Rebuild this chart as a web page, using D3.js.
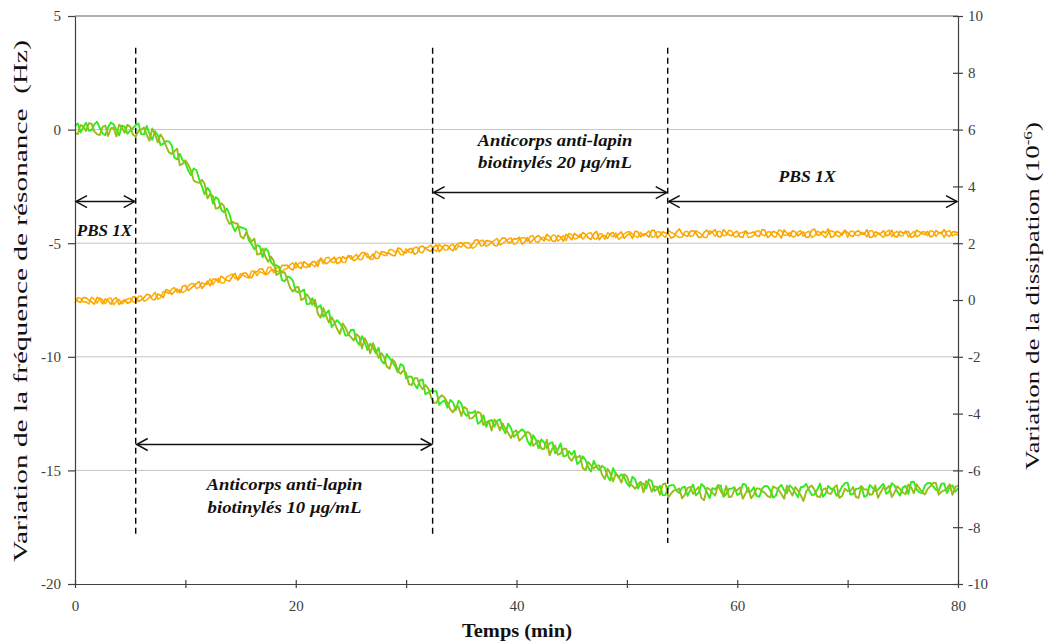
<!DOCTYPE html>
<html><head><meta charset="utf-8">
<script src="https://cdn.jsdelivr.net/npm/d3@7"></script>
<style>body{margin:0;background:#fff}svg{display:block}</style>
</head><body><svg id="c" width="1046" height="644"></svg>
<script>
// ---------- DATA ----------
// samples at t = 0, 0.5, ..., 80 min
const time = d3.range(0, 80.001, 0.5);
// samples at t = 0.25, 0.75, ..., 79.75 min
const timeMid = d3.range(0.25, 80, 0.5);
const freqGreen = [
0.17,-0.13,0.30,-0.03,0.35,-0.17,0.10,0.23,-0.25,0.13,
-0.05,0.20,-0.20,0.16,-0.45,-0.25,-0.62,-0.52,-1.23,-1.07,
-1.47,-2.00,-1.78,-2.50,-2.56,-3.26,-3.08,-3.64,-3.72,-4.47,
-4.30,-4.39,-5.04,-5.09,-5.62,-5.35,-5.98,-6.04,-6.68,-6.51,
-7.12,-7.12,-7.68,-7.42,-7.83,-8.24,-7.96,-8.54,-8.53,-9.06,
-8.82,-9.28,-9.09,-9.70,-9.61,-9.60,-10.30,-10.06,-10.42,-10.32,
-10.96,-10.88,-11.39,-11.00,-11.58,-11.52,-12.11,-11.92,-11.90,-12.34,
-12.06,-12.60,-12.47,-12.95,-12.57,-12.83,-13.07,-12.75,-13.37,-13.13,
-13.41,-13.19,-13.71,-13.45,-14.03,-13.77,-13.81,-14.25,-13.81,-14.35,
-14.31,-14.72,-14.38,-14.86,-14.57,-14.99,-14.89,-15.45,-15.15,-15.17,
-15.57,-15.28,-15.80,-15.59,-15.40,-15.91,-15.68,-16.08,-15.65,-15.90,
-15.76,-16.12,-15.62,-15.98,-15.72,-16.22,-15.84,-15.66,-16.04,-15.80,
-16.08,-15.60,-15.96,-15.74,-16.16,-15.68,-15.88,-16.10,-15.64,-16.00,
-15.78,-16.18,-15.72,-15.86,-16.06,-15.58,-16.02,-15.82,-16.12,-15.70,
-15.54,-16.04,-15.80,-16.16,-15.64,-15.91,-15.71,-16.03,-15.56,-15.93,
-15.76,-16.03,-15.50,-15.96,-15.67,-15.56,-15.86,-15.59,-16.00,-15.66,
-15.79];
const freqGreenMid = [
0.27,0.10,-0.05,0.23,0.07,-0.25,0.31,-0.01,0.18,-0.18,
0.07,0.27,-0.21,-0.20,-0.07,-0.68,-0.51,-0.68,-1.31,-1.34,
-1.79,-1.71,-2.19,-2.85,-2.73,-2.97,-3.53,-3.47,-4.21,-4.24,
-4.33,-4.88,-5.27,-5.14,-5.23,-5.82,-5.97,-6.63,-6.47,-6.66,
-7.16,-7.04,-7.67,-7.76,-7.73,-8.09,-8.69,-8.39,-8.70,-9.05,
-8.81,-9.47,-9.37,-9.42,-9.84,-10.17,-9.88,-10.22,-10.68,-10.40,
-10.87,-11.21,-11.04,-11.65,-11.49,-11.51,-11.98,-12.24,-12.01,-11.93,
-12.46,-12.45,-12.38,-12.86,-13.08,-12.78,-12.82,-13.14,-12.94,-13.52,
-13.30,-13.30,-13.90,-13.64,-13.64,-14.02,-13.76,-14.08,-14.38,-14.16,
-14.14,-14.62,-14.54,-15.05,-14.86,-14.80,-15.26,-14.90,-15.32,-15.30,
-15.71,-15.40,-15.57,-15.80,-15.47,-15.82,-16.09,-15.70,-15.65,-15.99,
-15.72,-15.86,-16.10,-15.60,-15.96,-15.78,-15.66,-16.16,-15.82,-15.74,
-16.02,-15.62,-15.92,-16.12,-15.80,-15.70,-16.20,-15.76,-15.88,-15.66,
-15.98,-15.74,-15.60,-16.08,-15.84,-16.16,-15.68,-15.80,-15.94,-15.56,
-16.06,-15.82,-15.70,-16.11,-15.76,-15.84,-15.59,-15.95,-15.66,-16.11,
-15.68,-15.51,-15.84,-16.00,-15.55,-15.70,-15.90,-15.57,-15.72,-15.94];
const freqOlive = [
-0.15,0.20,-0.06,0.26,-0.20,0.12,-0.28,0.08,0.22,-0.14,
0.13,-0.31,0.00,-0.23,0.05,-0.56,-0.41,-0.99,-0.96,-1.57,
-1.35,-1.79,-2.31,-2.21,-3.03,-2.93,-3.45,-3.37,-4.15,-4.12,
-4.69,-4.54,-4.93,-5.50,-5.23,-5.82,-5.77,-6.31,-6.29,-6.98,
-6.95,-7.51,-7.25,-7.71,-8.10,-7.85,-8.49,-8.47,-9.00,-8.71,
-9.13,-9.01,-9.64,-9.43,-9.40,-10.05,-10.01,-10.53,-10.25,-10.75,
-10.71,-11.25,-10.94,-11.43,-11.39,-12.03,-11.80,-11.81,-12.31,-12.21,
-12.61,-12.29,-12.70,-12.42,-13.00,-12.82,-12.76,-13.24,-13.18,-13.58,
-13.24,-13.58,-13.30,-13.92,-13.68,-14.06,-14.34,-13.90,-14.26,-14.04,
-14.58,-14.43,-14.89,-14.63,-14.92,-14.78,-15.38,-15.14,-15.12,-15.54,
-15.26,-15.67,-15.61,-15.96,-15.59,-15.70,-16.07,-15.57,-16.02,-15.87,
-16.23,-15.77,-16.03,-15.73,-16.31,-15.83,-16.11,-15.91,-15.69,-16.15,
-15.87,-16.25,-15.75,-16.07,-15.81,-15.99,-16.19,-15.77,-16.05,-15.67,
-16.11,-15.89,-16.35,-15.75,-15.85,-16.17,-15.79,-16.03,-15.65,-16.13,
-15.91,-15.73,-16.21,-15.83,-16.07,-15.66,-15.96,-15.82,-16.17,-15.70,
-15.97,-15.62,-16.01,-15.79,-16.06,-15.69,-15.55,-15.94,-15.79,-16.07,
-15.68];
const freqOliveMid = [
-0.20,0.14,0.28,-0.08,-0.24,0.18,0.06,-0.30,0.09,0.21,
-0.22,-0.07,0.09,-0.49,-0.20,-0.21,-0.72,-1.07,-0.84,-1.51,
-1.54,-2.24,-2.34,-2.40,-2.82,-3.48,-3.24,-3.92,-4.06,-4.15,
-4.80,-4.73,-4.80,-5.47,-5.60,-5.59,-6.40,-6.28,-6.62,-7.13,
-6.93,-7.43,-7.42,-7.49,-8.28,-8.20,-8.26,-8.78,-8.53,-9.00,
-9.28,-9.12,-9.18,-9.85,-9.71,-9.84,-10.43,-10.11,-10.61,-10.59,
-11.20,-10.94,-11.25,-11.24,-11.76,-12.02,-11.69,-12.03,-12.44,-12.20,
-12.21,-12.72,-12.57,-12.49,-12.89,-13.25,-12.91,-12.93,-13.35,-13.31,
-13.69,-13.43,-13.39,-13.81,-14.05,-13.65,-14.03,-14.31,-14.05,-14.43,
-14.37,-14.35,-14.99,-14.78,-14.79,-15.19,-14.93,-15.49,-15.27,-15.17,
-15.60,-15.81,-15.50,-15.47,-15.94,-15.73,-15.62,-16.19,-15.88,-15.80,
-16.07,-15.73,-15.87,-16.21,-15.77,-15.99,-15.65,-16.11,-16.17,-15.83,
-15.75,-16.01,-16.23,-15.79,-15.91,-16.13,-15.71,-15.85,-16.25,-15.89,
-15.73,-16.09,-15.93,-15.67,-16.15,-15.85,-16.01,-15.77,-16.21,-15.81,
-15.91,-16.17,-15.69,-15.84,-16.05,-16.21,-15.74,-15.68,-15.97,-15.82,
-16.05,-15.74,-15.61,-15.95,-15.82,-15.55,-16.07,-15.88,-15.61,-15.73];
const dissOrange = [
0.06,-0.08,0.08,-0.06,0.09,-0.14,-0.03,0.03,-0.16,0.01,
-0.08,0.10,0.00,0.20,0.02,0.21,0.08,0.33,0.30,0.25,
0.52,0.41,0.58,0.41,0.66,0.74,0.62,0.76,0.66,0.94,
0.81,0.95,0.78,1.00,1.09,0.93,1.07,1.02,1.22,1.11,
1.32,1.11,1.28,1.35,1.18,1.39,1.34,1.51,1.33,1.46,
1.56,1.43,1.67,1.50,1.62,1.47,1.69,1.64,1.56,1.80,
1.66,1.82,1.66,1.90,1.76,1.86,1.70,1.94,1.80,1.92,
2.02,1.84,1.96,2.12,1.92,2.08,1.92,2.08,2.17,2.03,
2.14,1.97,2.20,2.12,2.27,2.08,2.23,2.06,2.22,2.31,
2.12,2.27,2.38,2.19,2.33,2.12,2.27,2.33,2.20,2.40,
2.27,2.17,2.40,2.32,2.21,2.45,2.27,2.36,2.18,2.40,
2.34,2.24,2.44,2.20,2.38,2.32,2.48,2.22,2.36,2.26,
2.42,2.20,2.34,2.40,2.24,2.46,2.28,2.38,2.18,2.36,
2.44,2.26,2.40,2.22,2.50,2.30,2.36,2.20,2.42,2.28,
2.38,2.24,2.44,2.32,2.20,2.40,2.34,2.26,2.46,2.22,
2.36,2.42,2.24,2.40,2.30,2.22,2.44,2.34,2.28,2.40,
2.36];
const dissOrangeMid = [
-0.04,0.09,0.00,-0.15,0.03,0.04,-0.15,0.08,-0.06,-0.11,
0.11,-0.05,0.08,0.18,0.01,0.16,0.37,0.20,0.39,0.48,
0.33,0.50,0.65,0.52,0.50,0.74,0.84,0.70,0.82,0.70,
0.95,0.81,0.98,1.10,0.89,1.05,1.01,1.22,1.22,1.05,
1.16,1.35,1.16,1.35,1.48,1.27,1.42,1.28,1.53,1.53,
1.38,1.56,1.67,1.49,1.46,1.70,1.65,1.57,1.83,1.67,
1.79,1.61,1.87,1.81,1.71,1.95,1.81,1.91,1.73,1.99,
1.93,1.83,2.11,1.91,2.09,2.05,1.91,2.19,2.02,2.16,
2.21,2.04,2.01,2.21,2.16,2.31,2.08,2.27,2.07,2.24,
2.35,2.20,2.31,2.13,2.42,2.25,2.17,2.38,2.32,2.17,
2.35,2.42,2.22,2.31,2.45,2.19,2.40,2.34,2.22,2.50,
2.28,2.42,2.36,2.22,2.46,2.40,2.24,2.48,2.30,2.38,
2.22,2.44,2.36,2.26,2.48,2.20,2.42,2.32,2.46,2.24,
2.40,2.34,2.20,2.46,2.28,2.42,2.50,2.24,2.38,2.44,
2.26,2.40,2.32,2.48,2.22,2.36,2.44,2.30,2.24,2.42,
2.38,2.20,2.46,2.34,2.42,2.26,2.38,2.48,2.24,2.40];
const dissAmber = [
-0.10,0.06,-0.06,0.10,-0.11,0.00,0.05,-0.17,0.02,-0.05,
0.06,-0.10,0.14,0.00,0.14,0.03,0.30,0.23,0.44,0.37,
0.32,0.57,0.40,0.61,0.56,0.54,0.76,0.60,0.86,0.76,
0.93,0.81,1.02,0.86,0.95,1.15,0.95,1.14,1.08,1.25,
1.12,1.33,1.14,1.25,1.38,1.27,1.50,1.31,1.51,1.32,
1.44,1.61,1.43,1.64,1.44,1.65,1.57,1.78,1.68,1.60,
1.80,1.66,1.86,1.66,1.86,1.78,1.96,1.76,1.92,1.76,
1.86,2.02,1.82,2.00,2.10,1.94,2.10,1.94,2.07,2.19,
2.00,2.19,2.06,2.26,2.03,2.20,2.09,2.28,2.16,2.09,
2.30,2.17,2.14,2.35,2.17,2.32,2.13,2.29,2.36,2.20,
2.39,2.33,2.20,2.26,2.43,2.23,2.39,2.20,2.38,2.26,
2.22,2.42,2.26,2.38,2.20,2.44,2.24,2.40,2.28,2.42,
2.24,2.38,2.20,2.28,2.42,2.26,2.40,2.22,2.44,2.28,
2.22,2.40,2.24,2.42,2.26,2.38,2.20,2.44,2.28,2.36,
2.20,2.42,2.26,2.36,2.44,2.22,2.28,2.40,2.24,2.42,
2.26,2.22,2.42,2.28,2.40,2.44,2.24,2.38,2.42,2.26,
2.28];
const dissAmberMid = [
0.08,-0.07,-0.14,0.02,0.07,-0.13,0.07,-0.05,-0.14,0.04,
-0.05,0.13,-0.04,0.10,0.27,0.08,0.29,0.38,0.27,0.26,
0.49,0.58,0.45,0.56,0.74,0.70,0.60,0.82,0.92,0.76,
0.87,0.77,1.02,1.00,0.91,1.15,1.13,1.00,1.12,1.31,
1.28,1.17,1.28,1.17,1.42,1.49,1.34,1.46,1.33,1.57,
1.52,1.42,1.63,1.43,1.72,1.62,1.57,1.77,1.75,1.59,
1.69,1.85,1.69,1.85,1.93,1.71,1.87,1.77,1.97,1.91,
2.01,1.99,1.87,2.09,1.89,2.03,2.17,1.99,2.14,1.96,
2.13,2.20,2.25,2.05,2.20,2.13,2.28,2.07,2.27,2.34,
2.15,2.32,2.25,2.37,2.14,2.33,2.37,2.22,2.14,2.33,
2.41,2.24,2.38,2.35,2.21,2.41,2.28,2.46,2.34,2.20,
2.40,2.24,2.44,2.32,2.20,2.38,2.42,2.26,2.46,2.22,
2.36,2.42,2.22,2.44,2.30,2.40,2.24,2.46,2.28,2.38,
2.24,2.44,2.38,2.20,2.42,2.28,2.36,2.40,2.22,2.46,
2.42,2.28,2.38,2.22,2.44,2.34,2.20,2.46,2.36,2.26,
2.44,2.32,2.22,2.40,2.26,2.42,2.36,2.20,2.44,2.32];
const injectionTimes = [5.5, 32.4, 53.7];
const phaseStart = [0, 5.5, 32.4, 53.7];
const phaseEnd = [5.5, 32.4, 53.7, 80];
const phaseLabels = [["PBS 1X"], ["Anticorps anti-lapin", "biotinylés 10 µg/mL"], ["Anticorps anti-lapin", "biotinylés 20 µg/mL"], ["PBS 1X"]];
const xTicks = [0, 10, 20, 30, 40, 50, 60, 70, 80];
const yLeftTicks = [-20, -15, -10, -5, 0, 5];
const yRightTicks = [-10, -8, -6, -4, -2, 0, 2, 4, 6, 8, 10];

// ---------- LAYOUT ----------
const L = 75, R = 958, T = 16, B = 584;
const svg = d3.select("#c");
const x = d3.scaleLinear().domain([0, 80]).range([L, R]);
const yL = d3.scaleLinear().domain([-20, 5]).range([B, T]);
const yR = d3.scaleLinear().domain([-10, 10]).range([B, T]);
const serifFamily = "'Liberation Serif','Times New Roman',serif";
const axisCol = "#404040";

// gridlines
svg.append("g").selectAll("line").data(yLeftTicks.filter(v => v > -20 && v < 5)).join("line")
  .attr("x1", L).attr("x2", R).attr("y1", d => yL(d)).attr("y2", d => yL(d))
  .attr("stroke", "#c4c4c4").attr("stroke-width", 1);
svg.append("line").attr("x1", L).attr("x2", R).attr("y1", yL(5)).attr("y2", yL(5))
  .attr("stroke", "#606060").attr("stroke-width", 1);

// series: merge regular and mid samples into one time-ordered table
function table(main, mid) {
  const out = [];
  main.forEach((v, i) => {
    out.push([time[i], v]);
    if (i < mid.length) out.push([timeMid[i], mid[i]]);
  });
  return out;
}
const lineL = d3.line().x(d => x(d[0])).y(d => yL(d[1]));
const lineR = d3.line().x(d => x(d[0])).y(d => yR(d[1]));
const series = [
  {d: table(dissAmber, dissAmberMid), g: lineR, c: "#f5b60a", w: 1.6},
  {d: table(dissOrange, dissOrangeMid), g: lineR, c: "#ffa000", w: 1.6},
  {d: table(freqGreen, freqGreenMid), g: lineL, c: "#2eec1e", w: 1.9},
  {d: table(freqOlive, freqOliveMid), g: lineL, c: "#9abb18", w: 1.9}
];
svg.append("g").selectAll("path").data(series).join("path")
  .attr("d", s => s.g(s.d)).attr("fill", "none").attr("stroke", s => s.c)
  .attr("stroke-width", s => s.w).attr("stroke-linejoin", "round");

// axes
function styleAxis(g) {
  g.attr("font-family", null);
  g.selectAll("path,line").attr("stroke", axisCol).attr("stroke-width", 1.2);
  g.selectAll("text").attr("fill", axisCol).style("font-family", serifFamily).style("font-size", "15px");
}
const fmt = d => String(d);
svg.append("g").attr("transform", `translate(${L},0)`)
  .call(d3.axisLeft(yL).tickValues(yLeftTicks).tickSize(7).tickPadding(7).tickSizeOuter(0).tickFormat(fmt))
  .call(styleAxis);
svg.append("g").attr("transform", `translate(${R},0)`)
  .call(d3.axisRight(yR).tickValues(yRightTicks).tickSize(5).tickPadding(5).tickSizeOuter(0).tickFormat(fmt))
  .call(styleAxis);
svg.append("g").attr("transform", `translate(${R},0)`)
  .call(d3.axisRight(yR).tickValues(yRightTicks).tickSize(-5).tickFormat("").tickSizeOuter(0))
  .call(g => g.select(".domain").remove()).call(styleAxis);
svg.append("g").attr("transform", `translate(0,${B})`)
  .call(d3.axisBottom(x).tickValues(xTicks).tickSize(4).tickPadding(12).tickSizeOuter(0)
    .tickFormat(d => d % 20 === 0 ? String(d) : ""))
  .call(styleAxis);
svg.append("g").attr("transform", `translate(0,${B})`)
  .call(d3.axisBottom(x).tickValues(xTicks).tickSize(-4).tickFormat("").tickSizeOuter(0))
  .call(g => g.select(".domain").remove()).call(styleAxis);

// injection dashed lines
const dashTopHz = 3.6, dashBotHz = [-17.9, -17.9, -18.2];
svg.append("g").selectAll("line").data(injectionTimes).join("line")
  .attr("x1", d => x(d)).attr("x2", d => x(d))
  .attr("y1", yL(dashTopHz)).attr("y2", (d, i) => yL(dashBotHz[i]))
  .attr("stroke", "#000").attr("stroke-width", 1.4).attr("stroke-dasharray", "6,4");

// double arrows
const arrowLevel = [-3.17, -13.86, -2.77, -3.17];
const ag = svg.append("g").attr("stroke", "#111").attr("stroke-width", 1.5).attr("fill", "none");
phaseStart.forEach((s, i) => {
  const x1 = x(s) + 1, x2 = x(phaseEnd[i]) - 1, yy = yL(arrowLevel[i]);
  ag.append("line").attr("x1", x1).attr("x2", x2).attr("y1", yy).attr("y2", yy);
  ag.append("path").attr("d", `M${x1 + 11},${yy - 6}L${x1},${yy}L${x1 + 11},${yy + 6}`);
  ag.append("path").attr("d", `M${x2 - 11},${yy - 6}L${x2},${yy}L${x2 - 11},${yy + 6}`);
});

// text fitting helper
function fitText(sel, target, cx, cy, rot) {
  const w = sel.node().getBBox().width;
  sel.attr("transform", `translate(${cx},${cy}) rotate(${rot}) scale(${target / w},1)`);
}
function serifText(txt, size, weight, style) {
  return svg.append("text").text(txt).attr("text-anchor", "middle")
    .style("font-family", serifFamily)
    .style("font-size", size + "px").style("font-weight", weight).style("font-style", style)
    .attr("fill", "#111");
}

// phase labels
const labelPos = [
  [104.5, [236], [57]],
  [284.5, [490, 513], [157, 154]],
  [555, [146, 168], [156, 154]],
  [807, [182], [59]]
];
phaseLabels.forEach((lines, i) => {
  lines.forEach((txt, j) => {
    const t = serifText(txt, 17, "bold", "italic");
    fitText(t, labelPos[i][2][j], labelPos[i][0], labelPos[i][1][j], 0);
  });
});

// axis titles
fitText(serifText("Temps (min)", 19, "bold", "normal"), 110, 517, 637, 0);
const ylt = serifText("Variation de la fréquence de résonance  (Hz)", 19, "normal", "normal")
  .attr("xml:space", "preserve").style("white-space", "pre");
fitText(ylt, 522, 27, 301, -90);
const yrt = serifText("", 19, "normal", "normal");
yrt.append("tspan").text("Variation de la dissipation (10");
yrt.append("tspan").text("-6").attr("baseline-shift", "super").style("font-size", "12px");
yrt.append("tspan").text(")");
fitText(yrt, 348, 1039, 296, -90);
</script></body></html>
